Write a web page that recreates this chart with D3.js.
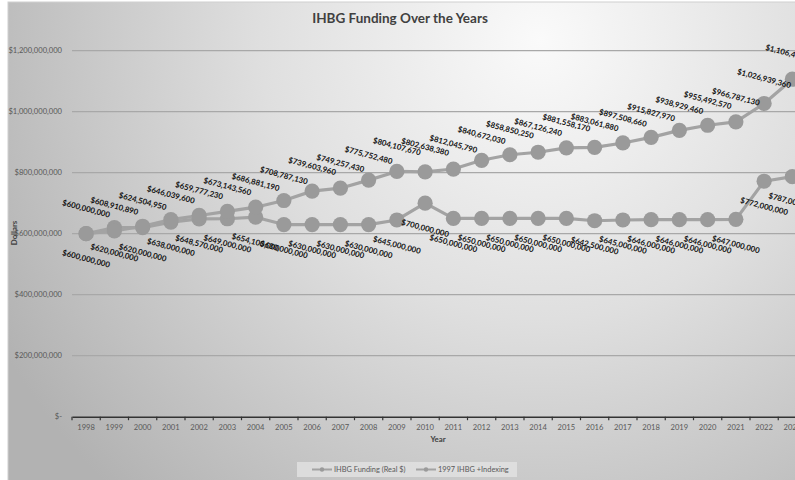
<!DOCTYPE html>
<html>
<head>
<meta charset="utf-8">
<script src="https://cdn.jsdelivr.net/npm/d3@7"></script>
<style>
  html, body { margin: 0; padding: 0; background: #ffffff; overflow: hidden; }
  svg { display: block; }
</style>
</head>
<body>
<svg id="chart" width="795" height="480"></svg>
<script>
// ---- data ----
const years = ["1998","1999","2000","2001","2002","2003","2004","2005","2006","2007","2008","2009","2010","2011","2012","2013","2014","2015","2016","2017","2018","2019","2020","2021","2022","2023"];
const realFunding = [600000000,620000000,620000000,638000000,648570000,649000000,654100000,630000000,630000000,630000000,630000000,645000000,700000000,650000000,650000000,650000000,650000000,650000000,642500000,645000000,646000000,646000000,646000000,647000000,772000000,787000000];
const indexedFunding = [600000000,608910890,624504950,646039600,659777230,673143560,686881190,708787130,739603960,749257430,775752480,804107670,802638380,812045790,840672030,858850250,867126240,881558170,883061880,897508660,915827970,938929460,955492570,966787130,1026939360,1106480200];
const yTicks = [0,200000000,400000000,600000000,800000000,1000000000,1200000000];
const seriesNames = ["IHBG Funding (Real $)", "1997 IHBG +Indexing"];
const titleText = "IHBG Funding Over the Years";
const xTitle = "Year";
const yTitle = "Dollars";

// ---- layout ----
const svg = d3.select("#chart");
const W = 795, H = 480;
const plot = {left: 72, right: 806.5, top: 50.7, bottom: 416.7};
const FONT = "Lato, 'Open Sans', sans-serif";

const defs = svg.append("defs");
const grad = defs.append("radialGradient").attr("id","bg")
  .attr("gradientUnits","userSpaceOnUse")
  .attr("cx", 540).attr("cy", 40).attr("r", 620);
grad.append("stop").attr("offset","0%").attr("stop-color","#fafafa");
grad.append("stop").attr("offset","45%").attr("stop-color","#dfdfdf");
grad.append("stop").attr("offset","100%").attr("stop-color","#b2b2b2");

svg.append("rect").attr("x",8).attr("y",2).attr("width",W).attr("height",H)
  .attr("fill","url(#bg)").attr("stroke","#d0d0d0").attr("stroke-width",1);

const x = d3.scaleBand().domain(years).range([plot.left, plot.right]).paddingInner(0).paddingOuter(0);
const y = d3.scaleLinear().domain([0,1200000000]).range([plot.bottom, plot.top]);
const cx = d => x(d) + x.bandwidth()/2;

// gridlines
svg.append("g").selectAll("line").data(yTicks.filter(t => t > 0)).join("line")
  .attr("x1", plot.left).attr("x2", plot.right)
  .attr("y1", d => y(d)).attr("y2", d => y(d))
  .attr("stroke","#a8a8a8").attr("stroke-width",1.2);

// y axis labels
const fmtDollar = d3.format(",");
svg.append("g").selectAll("text").data(yTicks).join("text")
  .attr("x", 62).attr("y", d => y(d)).attr("dy","0.35em")
  .attr("text-anchor","end")
  .attr("font-family", FONT).attr("font-size", 7.6).attr("fill","#595959")
  .text(d => d === 0 ? "$-" : "$" + fmtDollar(d));

// x axis
const xAxis = d3.axisBottom(x).tickSize(0).tickPadding(8);
const xg = svg.append("g").attr("transform", `translate(0,${plot.bottom})`).call(xAxis);
xg.select(".domain").attr("stroke","#333").attr("stroke-width",1.6);
xg.selectAll("text").attr("font-family", FONT).attr("font-size", 7.6).attr("fill","#595959");
// boundary ticks
svg.append("g").selectAll("line").data(d3.range(years.length + 1)).join("line")
  .attr("x1", i => plot.left + i * x.bandwidth()).attr("x2", i => plot.left + i * x.bandwidth())
  .attr("y1", plot.bottom).attr("y2", plot.bottom + 3.5)
  .attr("stroke","#333").attr("stroke-width",1.2);

// axis titles
svg.append("text").attr("x", 438).attr("y", 442)
  .attr("text-anchor","middle").attr("font-family", FONT).attr("font-weight","bold")
  .attr("font-size", 7.8).attr("fill","#404040").text(xTitle);
svg.append("text").attr("transform", "translate(17,233) rotate(-90)")
  .attr("text-anchor","middle").attr("font-family", FONT).attr("font-weight","bold")
  .attr("font-size", 7.8).attr("fill","#404040").text(yTitle);

// title
svg.append("text").attr("x", 400).attr("y", 23)
  .attr("text-anchor","middle").attr("font-family", FONT).attr("font-weight","bold")
  .attr("font-size", 13.5).attr("fill","#404040").text(titleText);

// series
const lineColor = "#a3a3a3", markColor = "#9a9a9a";
const line = d3.line().x((d,i) => cx(years[i])).y(d => y(d));
const seriesData = [realFunding, indexedFunding];
seriesData.forEach(vals => {
  svg.append("path").datum(vals).attr("d", line)
    .attr("fill","none").attr("stroke", lineColor).attr("stroke-width", 3.2)
    .attr("stroke-linejoin","round");
  svg.append("g").selectAll("circle").data(vals).join("circle")
    .attr("cx", (d,i) => cx(years[i])).attr("cy", d => y(d)).attr("r", 7.6)
    .attr("fill", markColor);
});

// data labels
function labels(vals, offset) {
  svg.append("g").selectAll("text").data(vals).join("text")
    .attr("transform", (d,i) => `translate(${cx(years[i])},${y(d) + offset}) rotate(15)`)
    .attr("text-anchor","middle").attr("dy","0.35em")
    .attr("font-family", FONT).attr("font-weight","bold")
    .attr("font-size", 7.8).attr("fill","#111111")
    .text(d => "$" + fmtDollar(d));
}
labels(realFunding, 25);
labels(indexedFunding, -25);

// legend
const lg = svg.append("g");
lg.append("rect").attr("x",297).attr("y",462).attr("width",220).attr("height",15)
  .attr("fill","#e2e2e2").attr("opacity",0.8);
const legendX = [312, 416];
seriesNames.forEach((name, i) => {
  const lx = legendX[i], ly = 469.5;
  lg.append("line").attr("x1", lx).attr("x2", lx + 20).attr("y1", ly).attr("y2", ly)
    .attr("stroke", lineColor).attr("stroke-width", 2);
  lg.append("circle").attr("cx", lx + 10).attr("cy", ly).attr("r", 2.2).attr("fill", markColor);
  lg.append("text").attr("x", lx + 22).attr("y", ly).attr("dy","0.35em")
    .attr("font-family", FONT).attr("font-size", 7.4).attr("fill","#595959").text(name);
});
</script>
</body>
</html>
